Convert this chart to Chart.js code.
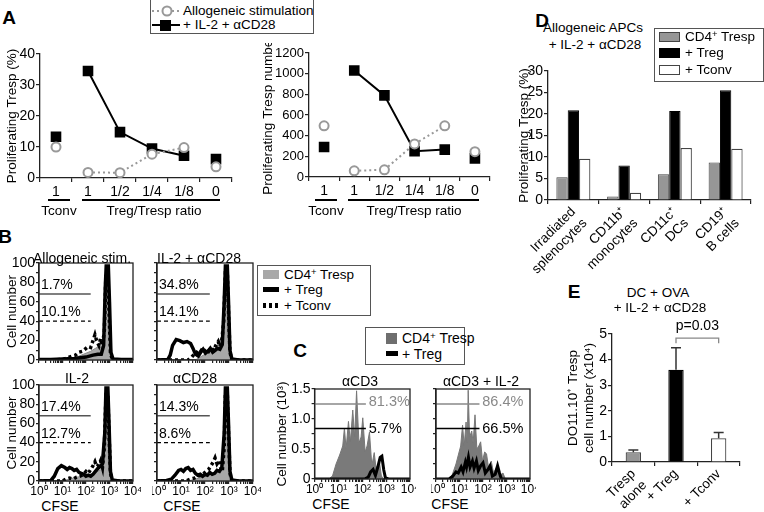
<!DOCTYPE html>
<html>
<head>
<meta charset="utf-8">
<script src="https://cdn.jsdelivr.net/npm/chart.js@4.4.1/dist/chart.umd.min.js"></script>
<style>
    body { margin: 0; background: #fff; }
    #fig { position: relative; width: 764px; height: 512px; overflow: hidden;
           font-family: "Liberation Sans", Arial, sans-serif; color: #000; }
    #fig canvas { position: absolute; }
    .t { position: absolute; white-space: nowrap; font-size: 13.5px; line-height: 1; }
    .t sup { font-size: 0.7em; vertical-align: 0.45em; line-height: 0; }
    .box { position: absolute; border: 1.3px solid #555; background: #fff; box-sizing: border-box; }
    .sw { position: absolute; box-sizing: border-box; }
</style>
</head>
<body>
<div id="fig"></div>
<script>
// A: proliferating Tresp vs Treg/Tresp ratio
const ratioLabels = ['1', '1', '1/2', '1/4', '1/8', '0']
const alloPct = [10, 1.8, 1.7, 7.7, 9.8, 3.6]
const il2Pct = [13.3, 34.5, 14.8, 9.5, 7.2, 6.1]
const alloNum = [495, 60, 70, 320, 495, 245]
const il2Num = [290, 1030, 790, 250, 265, 180]

// B: CFSE histograms, points are [log10 CFSE, cell number]
const stimTitles = ['Allogeneic stim.', 'IL-2 + αCD28', 'IL-2', 'αCD28']
const alloTresp = [[0,0],[1.2,0],[1.5,2],[1.8,5],[2.0,7],[2.2,9],[2.4,12],[2.55,14],[2.65,12],[2.75,20],[2.82,70],[2.87,97],[2.94,97],[3.0,60],[3.06,10],[3.14,1],[3.3,0],[4,0]]
const alloTreg = [[0,0.5],[0.5,0.5],[1,1],[1.5,1.5],[2.0,3],[2.3,5],[2.5,6],[2.65,6],[2.75,15],[2.82,75],[2.86,97],[2.95,97],[3.0,60],[3.06,8],[3.15,1],[3.5,0.5],[4,0.5]]
const alloTconv = [[0,0],[1.0,0.5],[1.2,2],[1.4,4],[1.55,5],[1.7,8],[1.85,9],[2.0,12],[2.1,14],[2.2,13],[2.3,20],[2.38,26],[2.45,20],[2.55,15],[2.62,22],[2.7,15],[2.78,30],[2.85,90],[2.93,90],[2.98,50],[3.04,8],[3.12,0],[4,0]]
const bothTresp = [[0,0],[1.6,0],[1.8,3],[2.0,6],[2.2,9],[2.4,12],[2.55,16],[2.65,22],[2.75,25],[2.82,70],[2.88,97],[2.94,97],[3.0,60],[3.06,10],[3.15,1],[3.3,0],[4,0]]
const bothTreg = [[0,0],[0.45,0.5],[0.55,5],[0.65,15],[0.8,21],[0.95,20],[1.1,18],[1.25,19],[1.4,17],[1.5,12],[1.6,6],[1.72,4],[1.82,8],[1.92,11],[2.02,7],[2.12,9],[2.22,12],[2.32,8],[2.42,10],[2.52,12],[2.62,11],[2.72,16],[2.8,60],[2.85,97],[2.93,97],[2.98,60],[3.04,10],[3.12,1],[3.4,0],[4,0]]
const bothTconv = [[0,0],[1.3,0],[1.45,3],[1.55,6],[1.65,8],[1.75,6],[1.85,10],[1.95,8],[2.05,11],[2.15,9],[2.25,13],[2.35,10],[2.45,15],[2.55,19],[2.62,14],[2.7,20],[2.78,40],[2.85,90],[2.93,90],[2.98,50],[3.04,8],[3.12,0],[4,0]]
const il2Tresp = [[0,0],[1.0,0],[1.3,2],[1.6,4],[1.9,5],[2.1,6],[2.3,8],[2.5,10],[2.65,12],[2.75,20],[2.82,70],[2.87,97],[2.94,97],[3.0,60],[3.06,10],[3.14,1],[3.3,0],[4,0]]
const il2Treg = [[0,0],[0.5,0.5],[0.65,5],[0.8,13],[0.95,16],[1.1,14],[1.2,12],[1.3,14],[1.4,13],[1.5,11],[1.6,12],[1.7,9],[1.8,8],[1.9,7],[2.0,5],[2.1,6],[2.2,5],[2.3,7],[2.4,10],[2.5,13],[2.6,15],[2.7,18],[2.8,50],[2.85,97],[2.93,97],[2.98,60],[3.04,10],[3.12,1],[3.4,0],[4,0]]
const il2Tconv = [[0,0],[1.0,0],[1.15,2],[1.3,3],[1.45,2],[1.6,4],[1.75,5],[1.9,7],[2.0,10],[2.1,8],[2.2,12],[2.3,16],[2.38,20],[2.45,15],[2.55,17],[2.62,21],[2.7,14],[2.78,35],[2.85,90],[2.93,90],[2.98,50],[3.04,8],[3.12,0],[4,0]]
const cd28Tresp = [[0,0],[1.3,0],[1.6,2],[1.9,4],[2.1,6],[2.3,8],[2.5,10],[2.65,13],[2.75,20],[2.82,70],[2.87,97],[2.94,97],[3.0,60],[3.06,10],[3.14,1],[3.3,0],[4,0]]
const cd28Treg = [[0,0],[0.4,0.5],[0.6,2],[0.75,6],[0.9,11],[1.0,12],[1.1,10],[1.2,13],[1.3,14],[1.4,11],[1.5,12],[1.6,8],[1.7,6],[1.8,7],[1.9,5],[2.0,7],[2.1,6],[2.2,9],[2.3,7],[2.4,8],[2.5,11],[2.6,10],[2.7,14],[2.8,50],[2.85,97],[2.93,97],[2.98,60],[3.04,10],[3.12,1],[3.4,0],[4,0]]
const cd28Tconv = [[0,0],[1.2,0],[1.4,2],[1.55,3],[1.7,5],[1.85,6],[1.95,8],[2.05,10],[2.15,12],[2.25,16],[2.35,20],[2.42,24],[2.5,18],[2.58,21],[2.65,14],[2.72,10],[2.8,35],[2.85,90],[2.93,90],[2.98,50],[3.04,8],[3.12,0],[4,0]]
const solidGatePct = ['1.7%', '34.8%', '17.4%', '14.3%']
const dashGatePct = ['10.1%', '14.1%', '12.7%', '8.6%']
const solidGateY = 68
const dashGateY = 40
const bGateEnd = 2.2
const cfseTicks = ['10⁰', '10¹', '10²', '10³', '10⁴']

// C: CFSE histograms, cell number in 10^3
const cTitles = ['αCD3', 'αCD3 + IL-2']
const cd3Tresp = [[0,0],[0.6,0],[0.75,0.05],[0.9,0.25],[1.05,0.4],[1.18,0.55],[1.25,0.85],[1.32,0.5],[1.42,0.96],[1.5,0.62],[1.6,1.15],[1.68,0.7],[1.76,1.47],[1.86,0.6],[1.95,0.7],[2.02,1.02],[2.12,0.45],[2.2,0.55],[2.3,0.78],[2.4,0.22],[2.5,0.44],[2.6,0.1],[2.72,0.28],[2.8,0.05],[2.9,0],[4,0]]
const cd3Treg = [[0,0],[2.1,0],[2.25,0.03],[2.35,0.12],[2.45,0.16],[2.55,0.06],[2.65,0.2],[2.75,0.36],[2.82,0.38],[2.9,0.15],[2.97,0.02],[3.1,0],[4,0]]
const cd3il2Tresp = [[0,0],[0.55,0],[0.7,0.08],[0.85,0.25],[0.95,0.4],[1.05,0.55],[1.13,0.9],[1.2,0.55],[1.28,0.95],[1.33,0.6],[1.37,1.48],[1.43,0.7],[1.52,0.8],[1.58,0.6],[1.66,1.07],[1.74,0.5],[1.82,0.55],[1.9,0.62],[1.98,0.3],[2.07,0.45],[2.15,0.42],[2.25,0.15],[2.35,0.3],[2.45,0.1],[2.58,0.2],[2.7,0.05],[2.85,0.1],[2.95,0],[4,0]]
const cd3il2Treg = [[0,0],[0.55,0],[0.7,0.04],[0.85,0.12],[0.95,0.1],[1.07,0.2],[1.15,0.12],[1.25,0.28],[1.3,0.2],[1.38,0.36],[1.45,0.2],[1.55,0.3],[1.62,0.18],[1.72,0.3],[1.8,0.14],[1.9,0.22],[2.0,0.27],[2.1,0.1],[2.2,0.15],[2.3,0.22],[2.4,0.05],[2.52,0.08],[2.62,0.22],[2.7,0.1],[2.78,0],[4,0]]
const cGrayPct = ['81.3%', '86.4%']
const cBlackPct = ['5.7%', '66.5%']
const cGrayGateY = 1.25
const cBlackGateY = 0.84
const cGateEnd = [2.15, 1.85]
const cTicks = ['0', '0.5', '1.0', '1.5']

// D: APC types
const apcLabels = [['Irradiated', 'splenocytes'], ['CD11b⁺', 'monocytes'], ['CD11c⁺', 'DCs'], ['CD19⁺', 'B cells']]
const apcTresp = [5.3, 0.8, 6.0, 8.7]
const apcTreg = [20.9, 8.0, 20.7, 25.5]
const apcTconv = [9.6, 1.7, 12.1, 11.9]

// E: DO11.10 Tresp numbers
const eLabels = [['Tresp', 'alone'], '+ Treg', '+ Tconv']
const eMeans = [0.38, 3.6, 0.93]
const eErr = [0.09, 0.86, 0.22]
const sigY = 4.84
const sigText = 'p=0.03'


Chart.defaults.font.family = '"Liberation Sans", Arial, sans-serif'
Chart.defaults.font.size = 13.5
Chart.defaults.color = '#000'
Chart.defaults.animation = false
Chart.defaults.plugins.legend.display = false
Chart.defaults.plugins.tooltip.enabled = false

const fig = document.getElementById('fig')

// box around the plot area (histograms)
const frame = {
    id: 'frame',
    afterDraw(chart, args, opts) {
        if (!opts.on) return
        const a = chart.chartArea, ctx = chart.ctx
        ctx.save()
        ctx.strokeStyle = '#222'
        ctx.lineWidth = 1.3
        ctx.strokeRect(a.left, a.top, a.right - a.left, a.bottom - a.top)
        ctx.restore()
    }
}

// text placed at data coordinates
const notes = {
    id: 'notes',
    afterDatasetsDraw(chart, args, opts) {
        const ctx = chart.ctx, x = chart.scales.x, y = chart.scales.y
        ;(opts.items || []).forEach(n => {
            ctx.save()
            ctx.font = (n.size || 14) + 'px "Liberation Sans", Arial, sans-serif'
            ctx.fillStyle = n.color || '#000'
            ctx.textAlign = n.align || 'left'
            ctx.textBaseline = n.base || 'alphabetic'
            ctx.fillText(n.text, x.getPixelForValue(n.x), y.getPixelForValue(n.y))
            ctx.restore()
        })
    }
}
Chart.register(frame, notes)

function zeroPad(s) {
    s.paddingLeft = 0
    s.paddingRight = 0
    s.paddingTop = 0
    s.paddingBottom = 0
}

// box = plot area edges + y axis width + x axis height + outer padding
function makeChart(box, config) {
    const pl = box.pl || 0, pt = box.pt || 0, pr = box.pr || 0, pb = box.pb || 0
    const left = box.l - box.yw - pl
    const top = box.t - pt
    const w = Math.round(box.r + pr - left)
    const h = Math.round(box.b + box.xh + pb - top)
    const c = document.createElement('canvas')
    c.width = w
    c.height = h
    c.style.left = left + 'px'
    c.style.top = top + 'px'
    fig.appendChild(c)
    config.options.responsive = false
    config.options.layout = {padding: {left: pl, top: pt, right: pr, bottom: pb}}
    config.options.scales.x.afterFit = s => { s.height = box.xh; zeroPad(s) }
    config.options.scales.y.afterFit = s => { s.width = box.yw; zeroPad(s) }
    return new Chart(c, config)
}

function axis(extra) {
    const a = {
        border: {color: '#222', width: 1.3},
        grid: {drawOnChartArea: false, tickLength: 4, color: '#222', lineWidth: 1.2},
        ticks: {autoSkip: false, padding: 1, font: {size: 14}, color: '#000'},
    }
    for (const k in extra) {
        const v = extra[k]
        if (v && typeof v === 'object' && !Array.isArray(v) && a[k]) a[k] = Object.assign({}, a[k], v)
        else a[k] = v
    }
    return a
}

function label(x, y, html, o = {}) {
    const d = document.createElement('div')
    d.className = 't'
    d.innerHTML = html
    d.style.left = x + 'px'
    d.style.top = y + 'px'
    d.style.transform = o.left ? 'translate(0,-50%)' : 'translate(-50%,-50%)'
    if (o.size) d.style.fontSize = o.size + 'px'
    if (o.bold) d.style.fontWeight = 'bold'
    if (o.color) d.style.color = o.color
    fig.appendChild(d)
}

function rect(cls, x, y, w, h, style) {
    const d = document.createElement('div')
    d.className = cls
    d.style.left = x + 'px'
    d.style.top = y + 'px'
    d.style.width = w + 'px'
    d.style.height = h + 'px'
    Object.assign(d.style, style || {})
    fig.appendChild(d)
}

const pts = a => a.map(p => ({x: p[0], y: p[1]}))

// log axis ticks (major + minor) for the CFSE axis
const logTicks = []
for (let d = 0; d < 4; d++) {
    logTicks.push(d)
    for (let k = 2; k < 10; k++) logTicks.push(d + Math.log10(k))
}
logTicks.push(4)

function cfseAxis(showLabels) {
    return axis({
        type: 'linear', min: 0, max: 4,
        afterBuildTicks: s => { s.ticks = logTicks.map(v => ({value: v})) },
        grid: {tickLength: 3},
        ticks: {display: showLabels, font: {size: 12}, padding: 0, maxRotation: 0, minRotation: 0,
            callback: v => Number.isInteger(v) ? cfseTicks[v] : ''},
    })
}


// ---------- A ----------
function ratioChart(box, allo, il2, yMax, yStep, title, tickSize) {
    // the Tconv control and the 0 ratio are separate points, no line to them
    const seg = color => ({borderColor: ctx => (ctx.p0DataIndex === 0 || ctx.p1DataIndex === 5) ? 'rgba(0,0,0,0)' : color})
    makeChart(box, {
        type: 'line',
        data: {
            labels: ratioLabels,
            datasets: [{
                data: allo,
                borderColor: '#999', borderWidth: 2, borderDash: [2, 3],
                pointStyle: 'circle', pointRadius: 4.5, pointBorderWidth: 2,
                pointBorderColor: '#999', pointBackgroundColor: '#fff',
                segment: seg('#999'),
            }, {
                data: il2,
                borderColor: '#000', borderWidth: 2,
                pointStyle: 'rect', pointRadius: 7.5, pointBorderWidth: 0,
                pointBackgroundColor: '#000',
                segment: seg('#000'),
            }],
        },
        options: {
            scales: {
                x: axis({offset: true, grid: {offset: true}, ticks: {padding: 2, maxRotation: 0}}),
                y: axis({
                    min: 0, max: yMax,
                    ticks: {stepSize: yStep, padding: 1, font: {size: tickSize}, callback: v => String(v)},
                    title: {display: true, text: title, font: {size: 13.5}, color: '#000'},
                }),
            }
        }
    })
}

ratioChart({l: 40, t: 54, r: 232, b: 178, yw: 40, xh: 24, pt: 10, pr: 8}, alloPct, il2Pct, 40, 10, 'Proliferating Tresp (%)', 14)
ratioChart({l: 309, t: 53, r: 490, b: 177, yw: 53, xh: 24, pt: 10, pr: 8}, alloNum, il2Num, 1200, 200, 'Proliferating Tresp number', 13)


// ---------- B ----------
const bTresp = [alloTresp, bothTresp, il2Tresp, cd28Tresp]
const bTreg = [alloTreg, bothTreg, il2Treg, cd28Treg]
const bTconv = [alloTconv, bothTconv, il2Tconv, cd28Tconv]
const bBoxes = [
    {l: 39, t: 263, r: 133, b: 360, yw: 39, xh: 5, pt: 10, pr: 5},
    {l: 157, t: 263, r: 253, b: 360, yw: 5, xh: 5, pt: 10, pr: 5},
    {l: 39, t: 385, r: 133, b: 481, yw: 39, xh: 16, pt: 10, pr: 8},
    {l: 157, t: 385, r: 253, b: 481, yw: 5, xh: 16, pt: 10, pr: 8},
]

bBoxes.forEach((box, i) => {
    const leftCol = i % 2 === 0
    makeChart(box, {
        type: 'line',
        data: {
            datasets: [
                {data: pts([[0, solidGateY], [bGateEnd, solidGateY]]), borderColor: '#555', borderWidth: 1.5, pointRadius: 0},
                {data: pts([[0, dashGateY], [bGateEnd, dashGateY]]), borderColor: '#000', borderWidth: 1.3, borderDash: [4, 3], pointRadius: 0},
                {data: pts(bTconv[i]), borderColor: '#000', borderWidth: 3.5, borderDash: [3, 3], pointRadius: 0},
                {data: pts(bTreg[i]), borderColor: '#000', borderWidth: 3.5, pointRadius: 0},
                {data: pts(bTresp[i]), borderColor: '#8a8a8a', borderWidth: 1, backgroundColor: '#a8a8a8', fill: 'origin', pointRadius: 0},
            ]
        },
        options: {
            plugins: {
                frame: {on: true},
                notes: {items: [
                    {x: 0.08, y: solidGateY + 5, text: solidGatePct[i]},
                    {x: 0.08, y: dashGateY + 5, text: dashGatePct[i]},
                ]},
            },
            scales: {
                x: cfseAxis(i >= 2),
                y: axis({
                    min: 0, max: 100,
                    ticks: {display: leftCol, stepSize: 10, padding: 1, callback: v => v % 20 === 0 ? String(v) : ''},
                    grid: {tickLength: 3},
                    title: {display: leftCol, text: 'Cell number', font: {size: 13.5}, color: '#000'},
                }),
            }
        }
    })
})


// ---------- C ----------
const cTresp = [cd3Tresp, cd3il2Tresp]
const cTreg = [cd3Treg, cd3il2Treg]
const cBoxes = [
    {l: 315, t: 389, r: 410, b: 479, yw: 44.6, xh: 16, pt: 10, pr: 6},
    {l: 436, t: 389, r: 530, b: 479, yw: 5, xh: 16, pt: 10, pr: 6},
]

cBoxes.forEach((box, i) => {
    makeChart(box, {
        type: 'line',
        data: {
            datasets: [
                {data: pts([[0, cGrayGateY], [cGateEnd[i], cGrayGateY]]), borderColor: '#888', borderWidth: 1.5, pointRadius: 0},
                {data: pts([[0, cBlackGateY], [cGateEnd[i], cBlackGateY]]), borderColor: '#000', borderWidth: 1.5, pointRadius: 0},
                {data: pts(cTreg[i]), borderColor: '#000', borderWidth: 3, pointRadius: 0},
                {data: pts(cTresp[i]), borderColor: '#777', borderWidth: 1, backgroundColor: '#7a7a7a', fill: 'origin', pointRadius: 0},
            ]
        },
        options: {
            plugins: {
                frame: {on: true},
                notes: {items: [
                    {x: cGateEnd[i] + 0.12, y: cGrayGateY + 0.04, text: cGrayPct[i], color: '#888', base: 'middle', size: 14.5},
                    {x: cGateEnd[i] + 0.12, y: cBlackGateY - 0.01, text: cBlackPct[i], base: 'middle', size: 14.5},
                ]},
            },
            scales: {
                x: cfseAxis(true),
                y: axis({
                    min: 0, max: 1.5,
                    ticks: {display: i === 0, stepSize: 0.25, padding: 1, callback: v => {
                        const k = Math.round(v * 2 * 1000) / 1000
                        return Number.isInteger(k) ? cTicks[k] : ''
                    }},
                    grid: {tickLength: 3},
                    title: {display: i === 0, text: 'Cell number (10³)', font: {size: 13.5}, color: '#000'},
                }),
            }
        }
    })
})


// ---------- D ----------
makeChart({l: 548, t: 71, r: 751, b: 200, yw: 36, xh: 80, pt: 10, pr: 12}, {
    type: 'bar',
    data: {
        labels: apcLabels,
        datasets: [
            {data: apcTresp, backgroundColor: '#969696', borderColor: '#444', borderWidth: 1},
            {data: apcTreg, backgroundColor: '#000', borderColor: '#000', borderWidth: 1},
            {data: apcTconv, backgroundColor: '#fff', borderColor: '#444', borderWidth: 1.2},
        ]
    },
    options: {
        datasets: {bar: {categoryPercentage: 0.67, barPercentage: 1}},
        scales: {
            x: axis({ticks: {maxRotation: 45, minRotation: 45, padding: 0, font: {size: 13.5}}}),
            y: axis({
                min: 0, max: 30,
                ticks: {stepSize: 5, padding: 1},
                title: {display: true, text: 'Proliferating Tresp (%)', font: {size: 13.5}, color: '#000'},
            }),
        }
    }
})


// ---------- E ----------
const errorBars = {
    id: 'errorBars',
    afterDatasetsDraw(chart) {
        const meta = chart.getDatasetMeta(0), y = chart.scales.y, ctx = chart.ctx
        ctx.save()
        ctx.strokeStyle = '#333'
        ctx.lineWidth = 1.5
        eMeans.forEach((m, i) => {
            const x = meta.data[i].x
            const y0 = y.getPixelForValue(m), y1 = y.getPixelForValue(m + eErr[i])
            ctx.beginPath()
            ctx.moveTo(x, y0)
            ctx.lineTo(x, y1)
            ctx.moveTo(x - 5, y1)
            ctx.lineTo(x + 5, y1)
            ctx.stroke()
        })
        // bracket between + Treg and + Tconv
        const xa = meta.data[1].x, xb = meta.data[2].x
        const yb = y.getPixelForValue(sigY), yt = y.getPixelForValue(sigY - 0.2)
        ctx.strokeStyle = '#888'
        ctx.lineWidth = 1.3
        ctx.beginPath()
        ctx.moveTo(xa, yt)
        ctx.lineTo(xa, yb)
        ctx.lineTo(xb, yb)
        ctx.lineTo(xb, yt)
        ctx.stroke()
        ctx.fillStyle = '#000'
        ctx.font = '14px "Liberation Sans", Arial, sans-serif'
        ctx.textAlign = 'center'
        ctx.textBaseline = 'middle'
        ctx.fillText(sigText, (xa + xb) / 2, y.getPixelForValue(sigY + 0.45))
        ctx.restore()
    }
}

makeChart({l: 612, t: 334, r: 740, b: 462, yw: 51, xh: 50, pt: 20, pr: 10}, {
    type: 'bar',
    data: {
        labels: eLabels,
        datasets: [{
            data: eMeans,
            backgroundColor: ['#969696', '#000', '#fff'],
            borderColor: ['#444', '#000', '#444'],
            borderWidth: 1.2,
        }]
    },
    options: {
        datasets: {bar: {categoryPercentage: 1, barPercentage: 0.36}},
        scales: {
            x: axis({ticks: {maxRotation: 45, minRotation: 45, padding: 0, font: {size: 13.5}}}),
            y: axis({
                min: 0, max: 5,
                ticks: {stepSize: 1, padding: 1},
                title: {display: true, text: ['DO11.10⁺ Tresp', 'cell number (x10⁴)'], font: {size: 13.5}, color: '#000'},
            }),
        }
    },
    plugins: [errorBars]
})


// ---------- text, legends ----------
label(9, 16.5, 'A', {size: 19, bold: true})
label(5, 236, 'B', {size: 19, bold: true})
label(300, 350, 'C', {size: 19, bold: true})
label(542, 20, 'D', {size: 19, bold: true})
label(574, 291, 'E', {size: 19, bold: true})

// A legend
rect('box', 150, -2, 164, 36)
fig.insertAdjacentHTML('beforeend',
    '<svg style="position:absolute;left:152px;top:5px" width="30" height="12">' +
    '<line x1="0" y1="6" x2="28" y2="6" stroke="#999" stroke-width="2" stroke-dasharray="2,3"/>' +
    '<circle cx="15" cy="6" r="4.5" fill="#fff" stroke="#999" stroke-width="2"/></svg>' +
    '<svg style="position:absolute;left:152px;top:19px" width="30" height="12">' +
    '<line x1="0" y1="6" x2="28" y2="6" stroke="#000" stroke-width="2"/>' +
    '<rect x="8" y="1" width="11" height="11" fill="#000"/></svg>')
label(183, 11, 'Allogeneic stimulation', {left: true})
label(183, 25, '+ IL-2 + αCD28', {left: true})

// A group labels under the axes
rect('sw', 48, 199, 22, 2, {background: '#000'})
rect('sw', 82, 199, 138, 2, {background: '#000'})
label(59, 211, 'Tconv')
label(154, 211, 'Treg/Tresp ratio')
rect('sw', 315, 199, 22, 2, {background: '#000'})
rect('sw', 348, 199, 131, 2, {background: '#000'})
label(326, 211, 'Tconv')
label(414, 211, 'Treg/Tresp ratio')

// B titles + legend
label(82, 258, stimTitles[0], {size: 14})
label(199, 258, stimTitles[1], {size: 14})
label(77, 378, stimTitles[2], {size: 14})
label(195, 378, stimTitles[3], {size: 14})
label(60, 506, 'CFSE', {size: 14})
label(182, 506, 'CFSE', {size: 14})
rect('box', 257, 265, 114, 51)
rect('sw', 263, 270, 16, 9, {background: '#a8a8a8'})
rect('sw', 263, 287, 16, 5, {background: '#000'})
rect('sw', 263, 303, 16, 5, {background: 'repeating-linear-gradient(90deg,#000 0 3px,transparent 3px 6px)'})
label(284, 275, 'CD4<sup>+</sup> Tresp', {left: true})
label(284, 290, '+ Treg', {left: true})
label(284, 306, '+ Tconv', {left: true})

// C titles + legend
label(360, 381, cTitles[0], {size: 14})
label(481, 381, cTitles[1], {size: 14})
label(331, 504, 'CFSE', {size: 14})
label(450, 504, 'CFSE', {size: 14})
rect('box', 365, 327, 100, 38)
rect('sw', 386, 333, 11, 11, {background: '#6e6e6e'})
rect('sw', 386, 351, 12, 5, {background: '#000'})
label(402, 338, 'CD4<sup>+</sup> Tresp', {left: true, size: 14})
label(402, 354, '+ Treg', {left: true, size: 14})

// D title + legend
label(593, 28, 'Allogeneic APCs')
label(595, 44.5, '+ IL-2 + αCD28')
rect('box', 654, 28, 110, 54)
rect('sw', 659, 32, 21, 10, {background: '#969696', border: '1px solid #444'})
rect('sw', 659, 48, 21, 10, {background: '#000'})
rect('sw', 659, 65, 21, 10, {background: '#fff', border: '1px solid #444'})
label(685, 37, 'CD4<sup>+</sup> Tresp', {left: true})
label(685, 53, '+ Treg', {left: true})
label(685, 70, '+ Tconv', {left: true})

// E title
label(658, 292.5, 'DC + OVA')
label(660, 308, '+ IL-2 + αCD28')
</script>
</body>
</html>
